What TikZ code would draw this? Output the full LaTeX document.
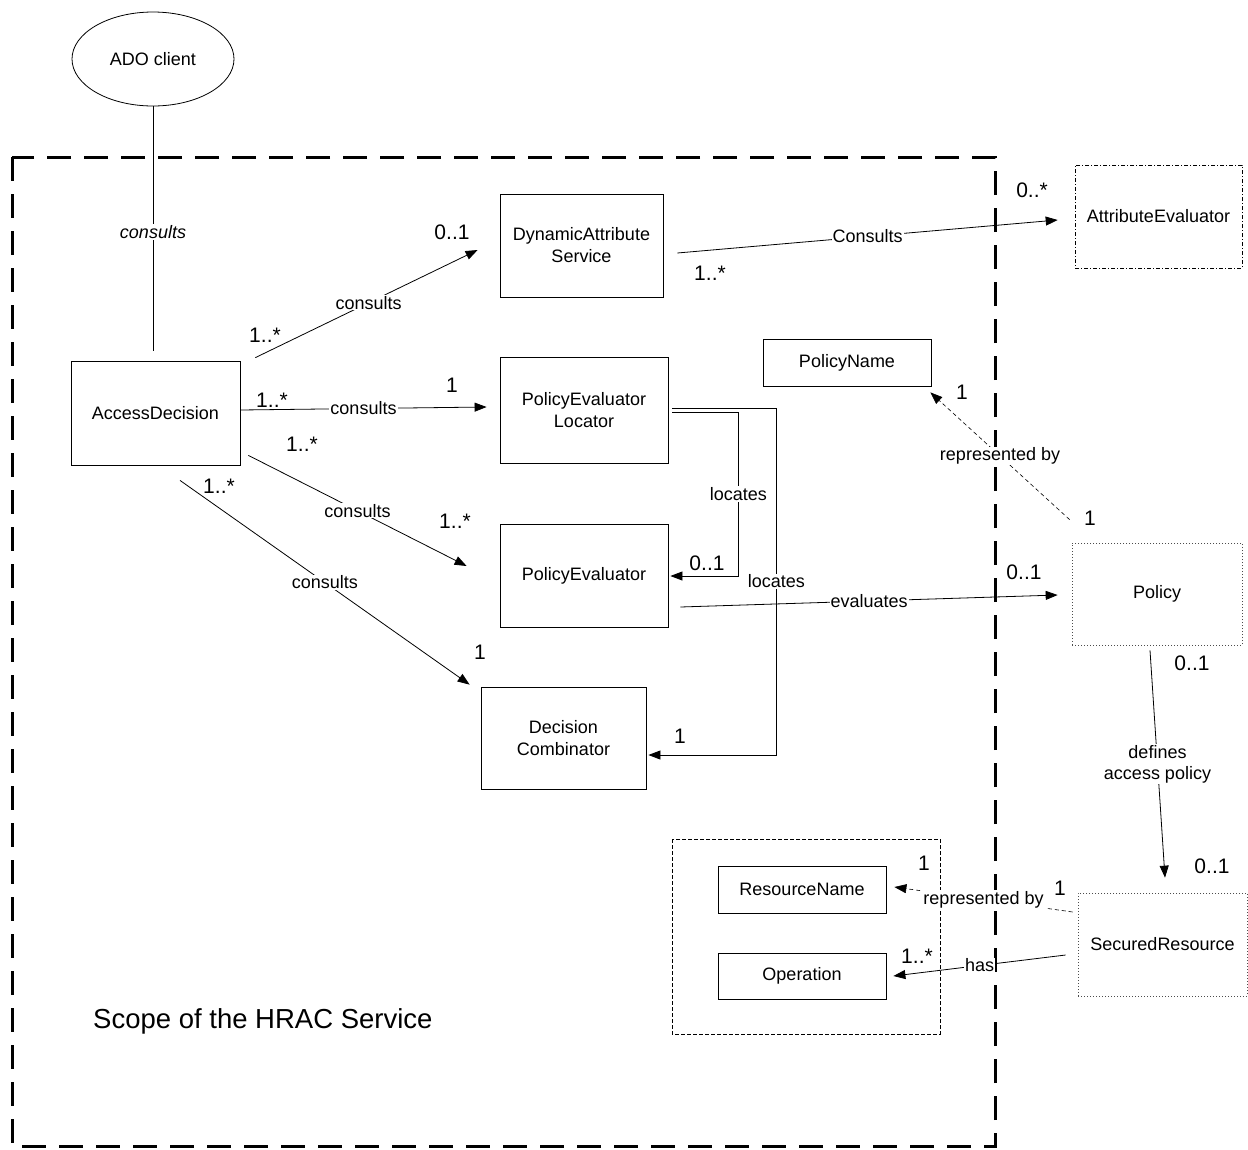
\documentclass[tikz,border=0pt]{standalone}
\usepackage{fontspec}
\setmainfont{Liberation Sans}
\usetikzlibrary{arrows.meta,calc,shapes.geometric}
\begin{document}
\begin{tikzpicture}[x=1pt,y=-1pt,
  box/.style={draw,line width=0.8pt,align=center,inner sep=0pt,font=\fontsize{18}{22}\selectfont},
  conn/.style={line width=0.8pt},
  arr/.style={conn,-{Triangle[length=12pt,width=9pt]}},
  darr/.style={arr,dash pattern=on 4pt off 3pt},
  lab/.style={fill=white,inner sep=1pt,font=\fontsize{18}{21}\selectfont,align=center},
  mult/.style={inner sep=0pt,font=\fontsize{21}{24}\selectfont}
]
\useasboundingbox (0,0) rectangle (1248,1149);

% scope boundary
\draw[line width=3pt,dash pattern=on 24pt off 13pt] (12,157) rectangle (995,1146);
\node[anchor=west,inner sep=0pt,font=\fontsize{27.5}{30}\selectfont] (scope) at (93,1021) {Scope of the HRAC Service};

% inner dashed group
\draw[line width=0.7pt,dash pattern=on 4pt off 2pt] (672,839) rectangle (940,1034);

% nodes
\node[draw,line width=0.8pt,ellipse,minimum width=162pt,minimum height=94pt,inner sep=0pt,font=\fontsize{18}{22}\selectfont] (ADO) at (153,59) {ADO client};
\node[box,minimum width=169pt,minimum height=104pt] (AD) at (155.5,413) {AccessDecision};
\node[box,minimum width=163pt,minimum height=103pt] (DAS) at (581.5,245.5) {DynamicAttribute\\Service};
\node[box,minimum width=168pt,minimum height=106pt] (PEL) at (584,410) {PolicyEvaluator\\Locator};
\node[box,minimum width=168pt,minimum height=103pt] (PE) at (584,575.5) {PolicyEvaluator};
\node[box,minimum width=165pt,minimum height=102pt] (DC) at (563.5,738) {Decision\\Combinator};
\node[box,minimum width=168pt,minimum height=47pt] (PN) at (847,362.5) {PolicyName};
\node[box,line width=0.6pt,dash pattern=on 4pt off 2pt on 1pt off 2pt,minimum width=167pt,minimum height=103pt] (AE) at (1158.5,216.5) {AttributeEvaluator};
\node[box,line width=0.7pt,draw=black!70,dash pattern=on 1pt off 2pt,minimum width=170pt,minimum height=102pt] (Pol) at (1157,594) {Policy};
\node[box,line width=0.7pt,draw=black!70,dash pattern=on 1pt off 2pt,minimum width=169pt,minimum height=103pt] (SR) at (1162.5,944.5) {SecuredResource};
\node[box,minimum width=168pt,minimum height=47pt] (RN) at (802,889.5) {ResourceName};
\node[box,minimum width=168pt,minimum height=46pt] (Op) at (802,976) {Operation};

% connectors
\draw[conn] (ADO.south) -- node[lab,pos=0.514,font=\fontsize{18}{21}\selectfont\itshape]{consults} ($(AD.north)+(-2.5,-10)$);

\draw[arr] ($(AD.north east)+(15,-3)$) -- node[lab,pos=0.51]{consults} ($(DAS.west)+(-22,4.5)$);
\draw[arr] ($(AD.east)+(0,-3)$) -- node[lab,pos=0.5]{consults} ($(PEL.west)+(-13,-3)$);
\draw[arr] ($(AD.south east)+(8,-10)$) -- node[lab,pos=0.5]{consults} ($(PE.west)+(-33,-9.5)$);
\draw[arr] ($(AD.south)+(24.5,15)$) -- node[lab,pos=0.5]{consults} ($(DC.north west)+(-11,-2)$);

\draw[arr] ($(DAS.east)+(14,7.5)$) -- node[lab,pos=0.5]{Consults} ($(AE.west)+(-17,3.5)$);

\draw[arr] ($(PEL.east)+(4,2)$) -- ++(66,0) -- node[lab,pos=0.5]{locates} ++(0,164) -- ($(PE.east)+(2,0.5)$);
\draw[arr] ($(PEL.east)+(4,-2)$) -- ++(104,0) -- node[lab,pos=0.5]{locates} ++(0,347) -- ($(DC.east)+(2,17)$);

\draw[arr] ($(PE.east)+(12,31.5)$) -- node[lab,pos=0.5]{evaluates} ($(Pol.west)+(-14,1)$);

\draw[darr,line width=0.6pt] ($(Pol.north west)+(-2,-23)$) -- node[lab,pos=0.5]{represented by} ($(PN.south east)+(-1,6)$);
\draw[arr] ($(Pol.south)+(-7,5)$) -- node[lab,pos=0.5]{defines\\access policy} ($(SR.north)+(2.5,-15)$);
\draw[darr,line width=0.6pt] ($(SR.west)+(-5,-32.5)$) -- node[lab,pos=0.5]{represented by} ($(RN.east)+(8,-2.5)$);
\draw[arr] ($(SR.west)+(-12,10.5)$) -- node[lab,pos=0.5]{has} ($(Op.east)+(7,0)$);

% multiplicities
\node[mult] (m1) at (265,335) {1..*};
\node[mult] (m2) at (452,232) {0..1};
\node[mult] (m3) at (272,400) {1..*};
\node[mult] (m4) at (452,385) {1};
\node[mult] (m5) at (302,444) {1..*};
\node[mult] (m6) at (455,521) {1..*};
\node[mult] (m7) at (219,486) {1..*};
\node[mult] (m8) at (480,652) {1};
\node[mult] (m9) at (710,273) {1..*};
\node[mult] (m10) at (1032,190) {0..*};
\node[mult] (m11) at (707,563) {0..1};
\node[mult] (m12) at (680,736) {1};
\node[mult] (m13) at (1024,572) {0..1};
\node[mult] (m14) at (962,392) {1};
\node[mult] (m15) at (1090,518) {1};
\node[mult] (m16) at (1192,663) {0..1};
\node[mult] (m17) at (1212,866) {0..1};
\node[mult] (m18) at (924,863) {1};
\node[mult] (m19) at (1060,888) {1};
\node[mult] (m20) at (917,956) {1..*};
\end{tikzpicture}
\end{document}
